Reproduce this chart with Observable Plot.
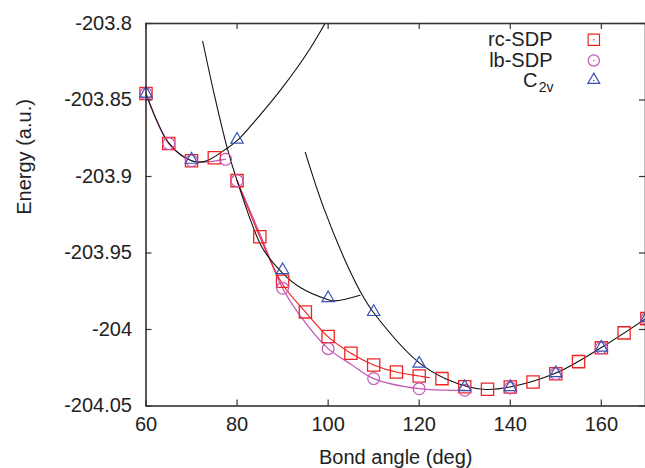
<!DOCTYPE html>
<html>
<head>
<meta charset="utf-8">
<script src="https://cdn.jsdelivr.net/npm/d3@7"></script>
<script src="https://cdn.jsdelivr.net/npm/@observablehq/plot@0.6"></script>
<style>
  html, body { margin: 0; padding: 0; background: white; }
  #chart { width: 645px; height: 468px; }
</style>
</head>
<body>
<div id="chart"></div>
<script>
// ---- data ----
const rcAngle  = [60,65,70,75,80,85,90,95,100,105,110,115,120,125,130,135,140,145,150,155,160,165,170];
const rcEnergy = [-203.8458,-203.8785,-203.8897,-203.8877,-203.9027,-203.9394,-203.9685,-203.9885,-204.0046,-204.0155,-204.0232,-204.0278,-204.0304,-204.0321,-204.0374,-204.0391,-204.0376,-204.0343,-204.0289,-204.0210,-204.0120,-204.0022,-203.9929];

const lbAngle  = [60,65,70,77.5,80,90,100,110,120,130,140,150,160,170];
const lbEnergy = [-203.8458,-203.8785,-203.8897,-203.8888,-203.9027,-203.9730,-204.0125,-204.0321,-204.0387,-204.0397,-204.0382,-204.0289,-204.0120,-203.9929];

const c2vAngle  = [60,70,80,90,100,110,120,130,140,150,160,170];
const c2vEnergy = [-203.8458,-203.8890,-203.8759,-203.9612,-203.9795,-203.9885,-204.0223,-204.0376,-204.0376,-204.0285,-204.0118,-203.9924];

// fitted curves
const fitAAngle  = [60,65,70,73,77.6,80,82.95,86.24,89.53,92.83,96.12,99.31];
const fitAEnergy = [-203.8458,-203.878,-203.8897,-203.8901,-203.882,-203.8766,-203.8671,-203.8556,-203.8435,-203.8304,-203.8160,-203.8000];

const fitBAngle  = [72.45,75,77.8,80,85.5,89.9,93.9,99.7,101.5,107.0];
const fitBEnergy = [-203.8116,-203.8465,-203.8810,-203.9027,-203.9464,-203.9628,-203.9726,-203.9802,-203.9813,-203.9776];

const fitCAngle  = [94.98,98.99,104.1,107.8,109.96,119.5,126.05,134.1,139.9,150,160,170];
const fitCEnergy = [-203.8842,-203.9202,-203.9573,-203.9791,-203.9889,-204.0205,-204.0325,-204.0391,-204.0376,-204.0285,-204.0118,-203.9924];

const rcFitAngle  = [80,85,90,95,100,105,110,115,120,122.2];
const rcFitEnergy = [-203.9027,-203.9394,-203.9704,-203.9885,-204.0048,-204.0155,-204.0232,-204.0278,-204.0304,-204.0315];

const lbFit1Angle  = [60,65,70,73,77.4];
const lbFit1Energy = [-203.8458,-203.8785,-203.8897,-203.8905,-203.8888];
const lbFit2Angle  = [80,85,90,95,100,105,110,120,130];
const lbFit2Energy = [-203.9027,-203.9374,-203.9730,-203.9955,-204.0125,-204.0227,-204.0321,-204.0387,-204.0397];

const xTicks = [60,80,100,120,140,160];
const yTicks = [-203.8,-203.85,-203.9,-203.95,-204,-204.05];
const seriesNames = ["rc-SDP","lb-SDP","C"];
const c2vSub = "2v";
const xLabel = "Bond angle (deg)";
const yLabel = "Energy (a.u.)";

// ---- build tables ----
const zip = (a, b) => a.map((x, i) => ({x, y: b[i]}));
const rc = zip(rcAngle, rcEnergy), lb = zip(lbAngle, lbEnergy), c2v = zip(c2vAngle, c2vEnergy);
const fitA = zip(fitAAngle, fitAEnergy), fitB = zip(fitBAngle, fitBEnergy), fitC = zip(fitCAngle, fitCEnergy);
const rcFit = zip(rcFitAngle, rcFitEnergy);
const lbFit1 = zip(lbFit1Angle, lbFit1Energy), lbFit2 = zip(lbFit2Angle, lbFit2Energy);

const RED = "#ee2424", MAG = "#c458b6", BLUE = "#3852b4";
const W = 645, H = 468, ML = 145.5, MR = 0, MT = 23, MB = 62.5;
const FW = W - ML - MR, FH = H - MT - MB, TL = 6;

const lineOpts = (stroke, sw = 1) => ({x: "x", y: "y", stroke, strokeWidth: sw, curve: "catmull-rom", clip: true});

const chart = Plot.plot({
  width: W, height: H,
  marginLeft: ML, marginRight: MR, marginTop: MT, marginBottom: MB,
  x: {domain: [60, 169.7]},
  y: {domain: [-204.05, -203.8]},
  style: {fontFamily: "'Liberation Sans', Arial, sans-serif", fontSize: "20px", color: "#222", background: "white", overflow: "visible"},
  marks: [
    // curves
    Plot.line(lbFit1, lineOpts(MAG, 1.3)),
    Plot.line(lbFit2, lineOpts(MAG, 1.3)),
    Plot.line(rcFit, lineOpts(RED, 1.2)),
    Plot.line(fitA, lineOpts("#111", 1.1)),
    Plot.line(fitB, lineOpts("#111", 1.1)),
    Plot.line(fitC, lineOpts("#111", 1.1)),
    // points
    Plot.dot(rc, {x: "x", y: "y", symbol: "square", r: 6.9, stroke: RED, strokeWidth: 1.3, fill: "none"}),
    Plot.dot(lb, {x: "x", y: "y", symbol: "circle", r: 5.9, stroke: MAG, strokeWidth: 1.2, fill: "none"}),
    Plot.dot(c2v, {x: "x", y: "y", symbol: "triangle", r: 4.6, stroke: BLUE, strokeWidth: 1.2, fill: "none"}),
    // frame + inward ticks on all four sides
    Plot.frame({stroke: "#333", strokeWidth: 1.6}),
    Plot.tickX(xTicks, {x: d => d, insetTop: FH - TL, stroke: "#333", strokeWidth: 1.2}),
    Plot.tickX(xTicks, {x: d => d, insetBottom: FH - TL, stroke: "#333", strokeWidth: 1.2}),
    Plot.tickY(yTicks, {y: d => d, insetRight: FW - TL, stroke: "#333", strokeWidth: 1.2}),
    Plot.tickY(yTicks, {y: d => d, insetLeft: FW - TL, stroke: "#333", strokeWidth: 1.2}),
    // tick labels
    Plot.axisX(xTicks, {anchor: "bottom", tickSize: 0, tickPadding: 11, label: null, fontSize: 20}),
    Plot.axisY(yTicks, {anchor: "left", tickSize: 0, tickPadding: 14, label: null, fontSize: 20, tickFormat: d => String(d)}),
    // axis titles
    Plot.text([xLabel], {text: d => d, frameAnchor: "bottom", dy: 52, lineAnchor: "middle", fontSize: 20}),
    Plot.text([yLabel], {text: d => d, frameAnchor: "left", dx: -121.5, rotate: -90, lineAnchor: "middle", fontSize: 20}),
    // legend
    Plot.text([seriesNames[0]], {text: d => d, frameAnchor: "top-right", dx: -93, dy: 16.5, textAnchor: "end", lineAnchor: "middle", fontSize: 20}),
    Plot.text([seriesNames[1]], {text: d => d, frameAnchor: "top-right", dx: -93, dy: 37.5, textAnchor: "end", lineAnchor: "middle", fontSize: 20}),
    Plot.text([seriesNames[2]], {text: d => d, frameAnchor: "top-right", dx: -108, dy: 57.5, textAnchor: "end", lineAnchor: "middle", fontSize: 20}),
    Plot.text([c2vSub], {text: d => d, frameAnchor: "top-right", dx: -92, dy: 64.5, textAnchor: "end", lineAnchor: "middle", fontSize: 14}),
    Plot.dot([0], {frameAnchor: "top-right", dx: -51.7, dy: 16.3, symbol: "square", r: 6.4, stroke: RED, strokeWidth: 1.2, fill: "none"}),
    Plot.dot([0], {frameAnchor: "top-right", dx: -51.7, dy: 16.3, r: 0.8, fill: RED}),
    Plot.dot([0], {frameAnchor: "top-right", dx: -51.7, dy: 37, symbol: "circle", r: 5.6, stroke: MAG, strokeWidth: 1.2, fill: "none"}),
    Plot.dot([0], {frameAnchor: "top-right", dx: -51.7, dy: 37, r: 0.8, fill: MAG}),
    Plot.dot([0], {frameAnchor: "top-right", dx: -51.7, dy: 56.5, symbol: "triangle", r: 4.4, stroke: BLUE, strokeWidth: 1.2, fill: "none"}),
    Plot.dot([0], {frameAnchor: "top-right", dx: -51.7, dy: 57, r: 0.8, fill: BLUE})
  ]
});
document.getElementById("chart").appendChild(chart);
</script>
</body>
</html>
